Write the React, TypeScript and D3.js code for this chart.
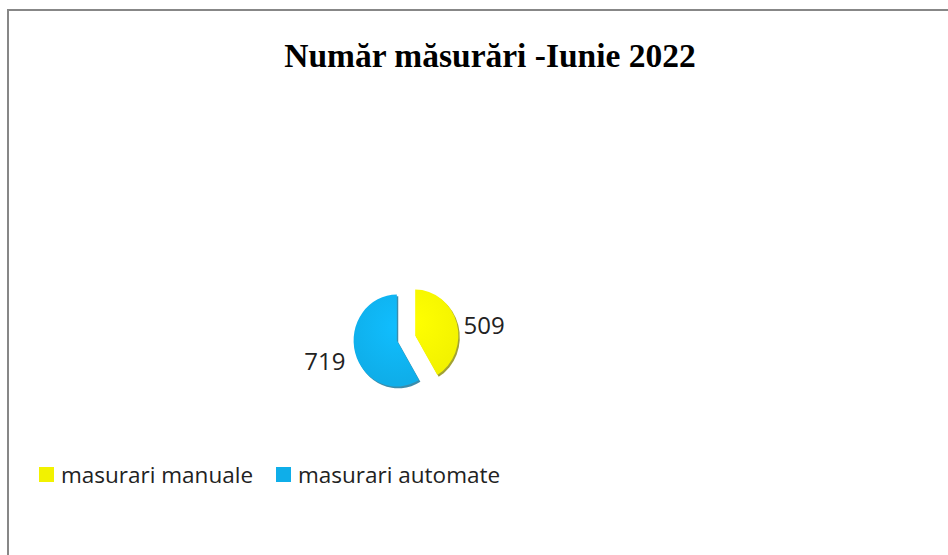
import React, { useRef, useEffect } from 'react';
import * as d3 from 'd3';

const title = 'Număr măsurări -Iunie 2022';
const categories = ['masurari manuale', 'masurari automate'];
const values = [509, 719];
const colors = ['#F2F200', '#0FAEE9'];
const shades = ['#8a8a00', '#0a6f96'];

const W = 948;
const H = 555;

function App() {
  const svgRef = useRef<SVGSVGElement>(null);

  useEffect(() => {
    const svg = d3.select(svgRef.current);
    svg.selectAll('*').remove();

    // frame (only top and left edges are visible in the crop)
    svg
      .append('path')
      .attr('d', `M8,${H} L8,10 L${W},10`)
      .attr('fill', 'none')
      .attr('stroke', '#878787')
      .attr('stroke-width', 2);

    svg
      .append('text')
      .attr('x', 490)
      .attr('y', 67)
      .attr('text-anchor', 'middle')
      .attr('font-family', '"Liberation Serif", "Times New Roman", serif')
      .attr('font-weight', 'bold')
      .attr('font-size', 33.5)
      .attr('fill', '#000')
      .text(title);

    const cx = 406;
    const cy = 338;
    const r = 46;
    const explode = 9.5;

    const pie = d3
      .pie<number>()
      .sort(null)
      .value((d) => d);
    const arcs = pie(values);
    const arc = d3.arc<d3.PieArcDatum<number>>().innerRadius(0).outerRadius(r);
    const labelArc = d3
      .arc<d3.PieArcDatum<number>>()
      .innerRadius(80)
      .outerRadius(80);

    const defs = svg.append('defs');
    colors.forEach((c, i) => {
      const g = defs
        .append('radialGradient')
        .attr('id', 'grad' + i)
        .attr('gradientUnits', 'userSpaceOnUse')
        .attr('cx', 0)
        .attr('cy', -r * 0.3)
        .attr('r', r * 1.2);
      g.append('stop').attr('offset', '0%').attr('stop-color', d3.color(c)!.brighter(0.25).formatHex());
      g.append('stop').attr('offset', '100%').attr('stop-color', c);
    });

    const g = svg.append('g').attr('transform', `translate(${cx},${cy})`);

    const slice = g
      .selectAll('g.slice')
      .data(arcs)
      .enter()
      .append('g')
      .attr('class', 'slice')
      .attr('transform', (d) => {
        const a = (d.startAngle + d.endAngle) / 2;
        return `translate(${Math.sin(a) * explode},${-Math.cos(a) * explode}) scale(0.94,1)`;
      });

    // shadow edge
    slice
      .append('path')
      .attr('d', arc)
      .attr('transform', 'translate(1.5,1.8)')
      .attr('fill', (d, i) => shades[i])
      .attr('opacity', 0.8);

    slice
      .append('path')
      .attr('d', arc)
      .attr('fill', (d, i) => `url(#grad${i})`);

    g.selectAll('text.lbl')
      .data(arcs)
      .enter()
      .append('text')
      .attr('class', 'lbl')
      .attr('x', (d) => labelArc.centroid(d)[0] + (d.index === 0 ? 1 : -4))
      .attr('y', (d) => labelArc.centroid(d)[1] + (d.index === 0 ? 9 : 2))
      .attr('dy', '0.35em')
      .attr('text-anchor', 'middle')
      .attr('font-family', '"Open Sans", "Noto Sans", sans-serif')
      .attr('font-size', 24)
      .attr('fill', '#222')
      .text((d) => d.data);

    // legend
    const legendX = [39, 276];
    const leg = svg
      .selectAll('g.legend')
      .data(categories)
      .enter()
      .append('g')
      .attr('class', 'legend')
      .attr('transform', (d, i) => `translate(${legendX[i]},467)`);
    leg
      .append('rect')
      .attr('width', 15)
      .attr('height', 15)
      .attr('fill', (d, i) => colors[i]);
    leg
      .append('text')
      .attr('x', 22)
      .attr('y', 16)
      .attr('font-family', '"Open Sans", "Noto Sans", sans-serif')
      .attr('font-size', 22.5)
      .attr('fill', '#222')
      .text((d) => d);
  }, []);

  return (
    <div style={{ position: 'absolute', left: 0, top: 0 }}>
      <svg ref={svgRef} width={W} height={H} style={{ display: 'block', background: '#fff' }}></svg>
    </div>
  );
}

export default App;
